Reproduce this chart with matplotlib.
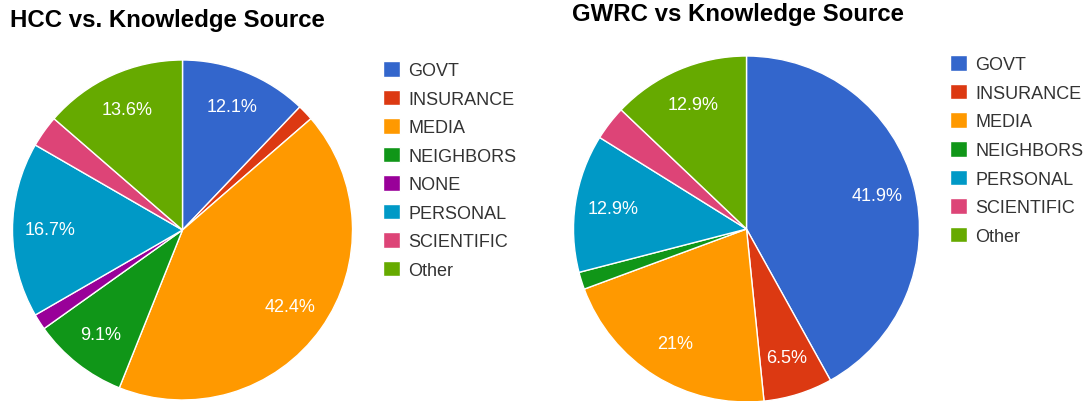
import matplotlib.pyplot as plt

plt.rcParams['font.family'] = ['Liberation Sans', 'DejaVu Sans']

# HCC survey, share of answers per knowledge source
hcc_labels = ['GOVT', 'INSURANCE', 'MEDIA', 'NEIGHBORS', 'NONE', 'PERSONAL', 'SCIENTIFIC', 'Other']
hcc_counts = [8, 1, 28, 6, 1, 11, 2, 9]

# GWRC survey
gwrc_labels = ['GOVT', 'INSURANCE', 'MEDIA', 'NEIGHBORS', 'PERSONAL', 'SCIENTIFIC', 'Other']
gwrc_counts = [26, 4, 13, 1, 8, 2, 8]

palette = {
    'GOVT': '#3366cc', 'INSURANCE': '#dc3912', 'MEDIA': '#ff9900',
    'NEIGHBORS': '#109618', 'NONE': '#990099', 'PERSONAL': '#0099c6',
    'SCIENTIFIC': '#dd4477', 'Other': '#66aa00',
}

W, H = 1090, 402
fig = plt.figure(figsize=(W / 100, H / 100), dpi=100)


def pct_text(p):
    # google hides labels of thin slices
    return '%.1f%%' % p if p >= 5 else ''


def pie_at(cx, cy, r, labels, counts):
    ax = fig.add_axes([(cx - r) / W, (H - cy - r) / H, 2 * r / W, 2 * r / H])
    wedges, texts, autotexts = ax.pie(
        counts, colors=[palette[l] for l in labels], startangle=90,
        counterclock=False, radius=1, autopct=pct_text, pctdistance=0.78,
        wedgeprops=dict(edgecolor='white', linewidth=1),
        textprops=dict(color='white', fontsize=13))
    for t in autotexts:
        # 21.0% is shown as 21% in the original
        t.set_text(t.get_text().replace('.0%', '%'))
    ax.set_xlim(-1, 1)
    ax.set_ylim(-1, 1)
    ax.set_aspect('equal')
    return ax, wedges


ax1, w1 = pie_at(182.5, 231, 170, hcc_labels, hcc_counts)
ax2, w2 = pie_at(746.5, 230, 173, gwrc_labels, gwrc_counts)

fig.text(10 / W, 1 - 21 / H, 'HCC vs. Knowledge Source', fontsize=17.3,
         fontweight='bold', color='#000000', va='center', ha='left')
fig.text(572 / W, 1 - 15 / H, 'GWRC vs Knowledge Source', fontsize=17.3,
         fontweight='bold', color='#000000', va='center', ha='left')

fig.legend(w1, hcc_labels, loc='upper left', bbox_to_anchor=(383 / W, 1 - 62 / H),
           frameon=False, fontsize=13, handlelength=0.95, handleheight=0.95,
           handletextpad=0.45, labelspacing=0.585, borderpad=0, borderaxespad=0,
           labelcolor='#333333')
fig.legend(w2, gwrc_labels, loc='upper left', bbox_to_anchor=(950 / W, 1 - 56 / H),
           frameon=False, fontsize=13, handlelength=0.95, handleheight=0.95,
           handletextpad=0.45, labelspacing=0.59, borderpad=0, borderaxespad=0,
           labelcolor='#333333')

fig.savefig('out.png', dpi=100)
